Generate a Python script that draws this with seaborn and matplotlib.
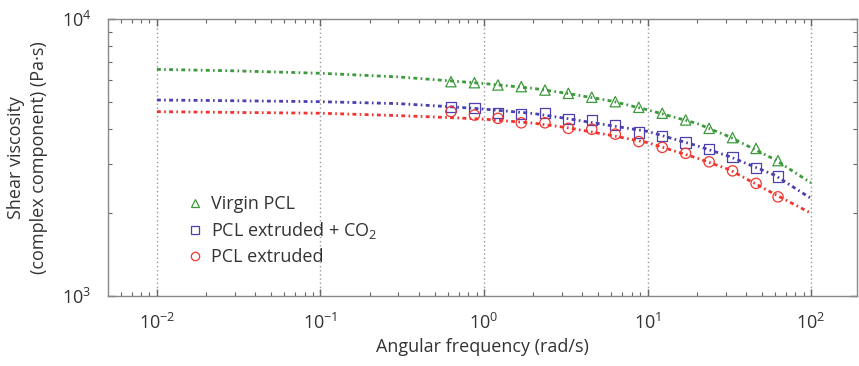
import matplotlib
matplotlib.use("Agg")
import matplotlib.pyplot as plt
import matplotlib.ticker as mticker
from matplotlib.lines import Line2D
import pandas as pd
import seaborn as sns

# measured points (frequency sweep 0.1 - 10 Hz)
freq = [0.628, 0.874, 1.217, 1.69, 2.36, 3.28, 4.56, 6.35, 8.84, 12.3, 17.1, 23.8, 33.1, 46.1, 62.8]
virgin = [5940, 5890, 5780, 5700, 5540, 5390, 5220, 5030, 4800, 4570, 4320, 4030, 3730, 3410, 3080]
extruded_co2 = [4800, 4785, 4590, 4530, 4570, 4355, 4320, 4140, 3890, 3780, 3580, 3390, 3170, 2905, 2700]
extruded = [4630, 4500, 4380, 4220, 4220, 4030, 4000, 3840, 3610, 3440, 3275, 3050, 2830, 2550, 2280]

# fitted curves
freq_fit = [0.01, 0.03, 0.1, 0.3, 0.6, 1, 2, 3.16, 6, 10, 20, 31.6, 60, 100]
virgin_fit = [6580, 6500, 6370, 6180, 5990, 5850, 5620, 5400, 5060, 4700, 4200, 3760, 3110, 2560]
extruded_co2_fit = [5100, 5070, 5030, 4950, 4830, 4730, 4560, 4380, 4120, 3930, 3490, 3190, 2730, 2250]
extruded_fit = [4630, 4600, 4570, 4480, 4410, 4350, 4210, 4060, 3800, 3580, 3150, 2860, 2330, 1990]

labels = ["Virgin PCL", "PCL extruded + CO$_2$", "PCL extruded"]
colors = ["#3c9a3c", "#4a40b0", "#f0352f"]
markers = ["^", "s", "o"]

sns.set_style("white")
plt.rcParams["font.family"] = ["Open Sans", "DejaVu Sans"]
plt.rcParams["mathtext.fontset"] = "custom"
plt.rcParams["mathtext.rm"] = "Open Sans"
plt.rcParams["mathtext.it"] = "Open Sans:italic"
plt.rcParams["mathtext.bf"] = "Open Sans:bold"

pts = pd.DataFrame({
    "freq": freq * 3,
    "eta": virgin + extruded_co2 + extruded,
    "sample": [labels[0]] * len(freq) + [labels[1]] * len(freq) + [labels[2]] * len(freq),
})
fits = pd.DataFrame({
    "freq": freq_fit * 3,
    "eta": virgin_fit + extruded_co2_fit + extruded_fit,
    "sample": [labels[0]] * len(freq_fit) + [labels[1]] * len(freq_fit) + [labels[2]] * len(freq_fit),
})
palette = dict(zip(labels, colors))

fig = plt.figure(figsize=(8.59, 3.66), dpi=100)
ax = fig.add_axes([0.1257, 0.1913, 0.8720, 0.7567])

sns.lineplot(data=fits, x="freq", y="eta", hue="sample", palette=palette,
             linewidth=2, legend=False, ax=ax)
for line in ax.get_lines():
    line.set_linestyle((0, (1.4, 1.2, 0.6, 1.2)))

for lab, mk in zip(labels, markers):
    sub = pts[pts["sample"] == lab]
    sns.scatterplot(data=sub, x="freq", y="eta", marker=mk, s=55,
                    facecolor="none", edgecolor=palette[lab], linewidth=0.9,
                    legend=False, ax=ax, zorder=3)

ax.set_xscale("log")
ax.set_yscale("log")
ax.set_xlim(0.00502, 191)
ax.set_ylim(1000, 10000)

ax.xaxis.set_major_locator(mticker.LogLocator(base=10, numticks=10))
ax.xaxis.set_minor_locator(mticker.LogLocator(base=10, subs=range(2, 10), numticks=20))
ax.xaxis.set_minor_formatter(mticker.NullFormatter())
ax.yaxis.set_major_locator(mticker.FixedLocator([1000, 10000]))
ax.yaxis.set_minor_locator(mticker.LogLocator(base=10, subs=range(2, 10), numticks=20))
ax.yaxis.set_minor_formatter(mticker.NullFormatter())

ax.tick_params(which="both", direction="in", bottom=True, left=True, top=True, right=True,
               colors="#666666", labelcolor="#333333")
ax.tick_params(which="major", length=5, width=1, labelsize=13, pad=12)
ax.tick_params(which="minor", length=3, width=0.8)
for s in ax.spines.values():
    s.set_color("#888888")
    s.set_linewidth(1.0)

ax.grid(True, which="major", axis="x", linestyle=(0, (1, 2)), color="#999999", linewidth=1)
ax.grid(False, axis="y")

ax.set_xlabel("Angular frequency (rad/s)", fontsize=13, color="#333333", labelpad=4)
ax.set_ylabel("Shear viscosity\n(complex component) (Pa·s)", fontsize=13,
              color="#333333", labelpad=10, linespacing=1.3)

handles = [Line2D([], [], linestyle="none", marker=m, markersize=6,
                  markerfacecolor="none", markeredgecolor=c, markeredgewidth=0.9)
           for m, c in zip(markers, colors)]
ax.legend(handles, labels, loc="lower left", bbox_to_anchor=(0.08, 0.05), frameon=False,
          fontsize=13, handletextpad=0.3, labelspacing=0.38, handlelength=1.2,
          labelcolor="#333333")

fig.savefig("out.png", dpi=100)
